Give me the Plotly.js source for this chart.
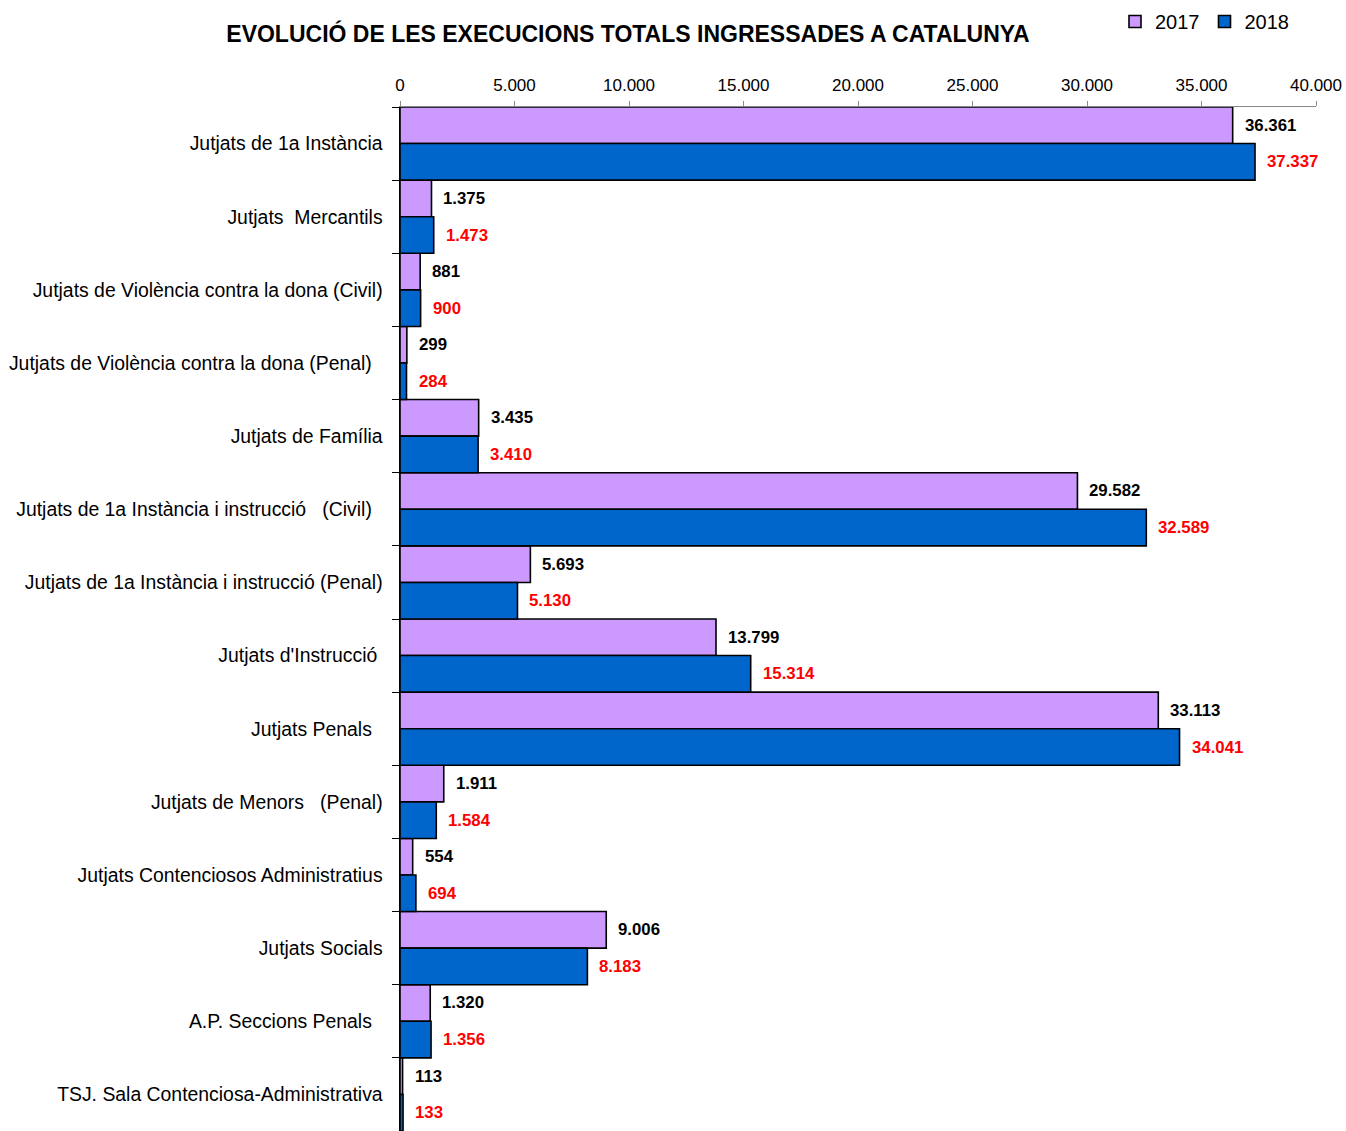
<!DOCTYPE html>
<html><head><meta charset="utf-8">
<script src="https://cdn.plot.ly/plotly-3.0.1.min.js"></script>
<style>body{margin:0;background:#fff}</style>
</head><body>
<div id="chart" style="width:1346px;height:1131px"></div>
<script>
const categories = [
  "Jutjats de 1a Instància",
  "Jutjats  Mercantils",
  "Jutjats de Violència contra la dona (Civil)",
  "Jutjats de Violència contra la dona (Penal)\u00a0\u00a0",
  "Jutjats de Família",
  "Jutjats de 1a Instància i instrucció\u00a0\u00a0\u00a0(Civil)\u00a0\u00a0",
  "Jutjats de 1a Instància i instrucció (Penal)",
  "Jutjats d'Instrucció\u00a0",
  "Jutjats Penals\u00a0\u00a0",
  "Jutjats de Menors\u00a0\u00a0\u00a0(Penal)",
  "Jutjats Contenciosos Administratius",
  "Jutjats Socials",
  "A.P. Seccions Penals\u00a0\u00a0",
  "TSJ. Sala Contenciosa-Administrativa"
];
const values2017 = [36361, 1375, 881, 299, 3435, 29582, 5693, 13799, 33113, 1911, 554, 9006, 1320, 113];
const values2018 = [37337, 1473, 900, 284, 3410, 32589, 5130, 15314, 34041, 1584, 694, 8183, 1356, 133];
const seriesNames = ["2017", "2018"];
const xTicks = [0, 5000, 10000, 15000, 20000, 25000, 30000, 35000, 40000];

function fmt(v){ return v.toString().replace(/\B(?=(\d{3})+(?!\d))/g, "."); }

const FONT = 'Liberation Sans, Arial';
const traces = [
  {type:'bar', orientation:'h', name:seriesNames[0], y:categories, x:values2017,
   marker:{color:'#CC99FF', line:{color:'#000', width:1.6}}, hoverinfo:'x'},
  {type:'bar', orientation:'h', name:seriesNames[1], y:categories, x:values2018,
   marker:{color:'#0066CC', line:{color:'#000', width:1.6}}, hoverinfo:'x'}
];

const annotations = [];
categories.forEach((c,i)=>{
  annotations.push({x:values2017[i], y:i, yshift:18.3, xref:'x', yref:'y', xanchor:'left', xshift:10,
    text:fmt(values2017[i]), showarrow:false, font:{family:FONT, size:16.8, color:'#000', weight:'bold'}});
  annotations.push({x:values2018[i], y:i, yshift:-18.3, xref:'x', yref:'y', xanchor:'left', xshift:10,
    text:fmt(values2018[i]), showarrow:false, font:{family:FONT, size:16.8, color:'#FF0000', weight:'bold'}});
});

const layout = {
  width:1346, height:1131,
  margin:{l:400, r:30, t:107, b:0},
  paper_bgcolor:'#fff', plot_bgcolor:'#fff',
  separators:',.',
  font:{family:FONT, color:'#000'},
  title:{text:'<b>EVOLUCIÓ DE LES EXECUCIONS TOTALS INGRESSADES A CATALUNYA</b>',
    font:{size:23, family:FONT, color:'#000'},
    xref:'container', x:628/1346, xanchor:'center', yref:'container', y:1-34/1131, yanchor:'middle'},
  barmode:'group', bargap:0, bargroupgap:0,
  showlegend:true,
  legend:{orientation:'h', x:1115/1346, xref:'container', y:1-2/1131, yref:'container', xanchor:'left', yanchor:'top',
    font:{size:20}, itemwidth:30, tracegroupgap:0, bgcolor:'rgba(0,0,0,0)'},
  xaxis:{side:'top', range:[0,40000], tickvals:xTicks, tickformat:',d',
    showgrid:false, zeroline:false, showline:true, linecolor:'#888', linewidth:1,
    ticks:'outside', ticklen:5, tickcolor:'#888', tickfont:{size:17}, ticklabelstandoff:3, fixedrange:true},
  yaxis:{autorange:'reversed', type:'category', tickson:'boundaries', ticks:'outside', ticklen:7,
    tickcolor:'#000', showline:true, linecolor:'#000', linewidth:1.5, showgrid:false,
    tickfont:{size:19.4}, ticklabelstandoff:12},
  annotations:annotations
};

Plotly.newPlot('chart', traces, layout, {displayModeBar:false, staticPlot:true});
</script>
</body></html>
